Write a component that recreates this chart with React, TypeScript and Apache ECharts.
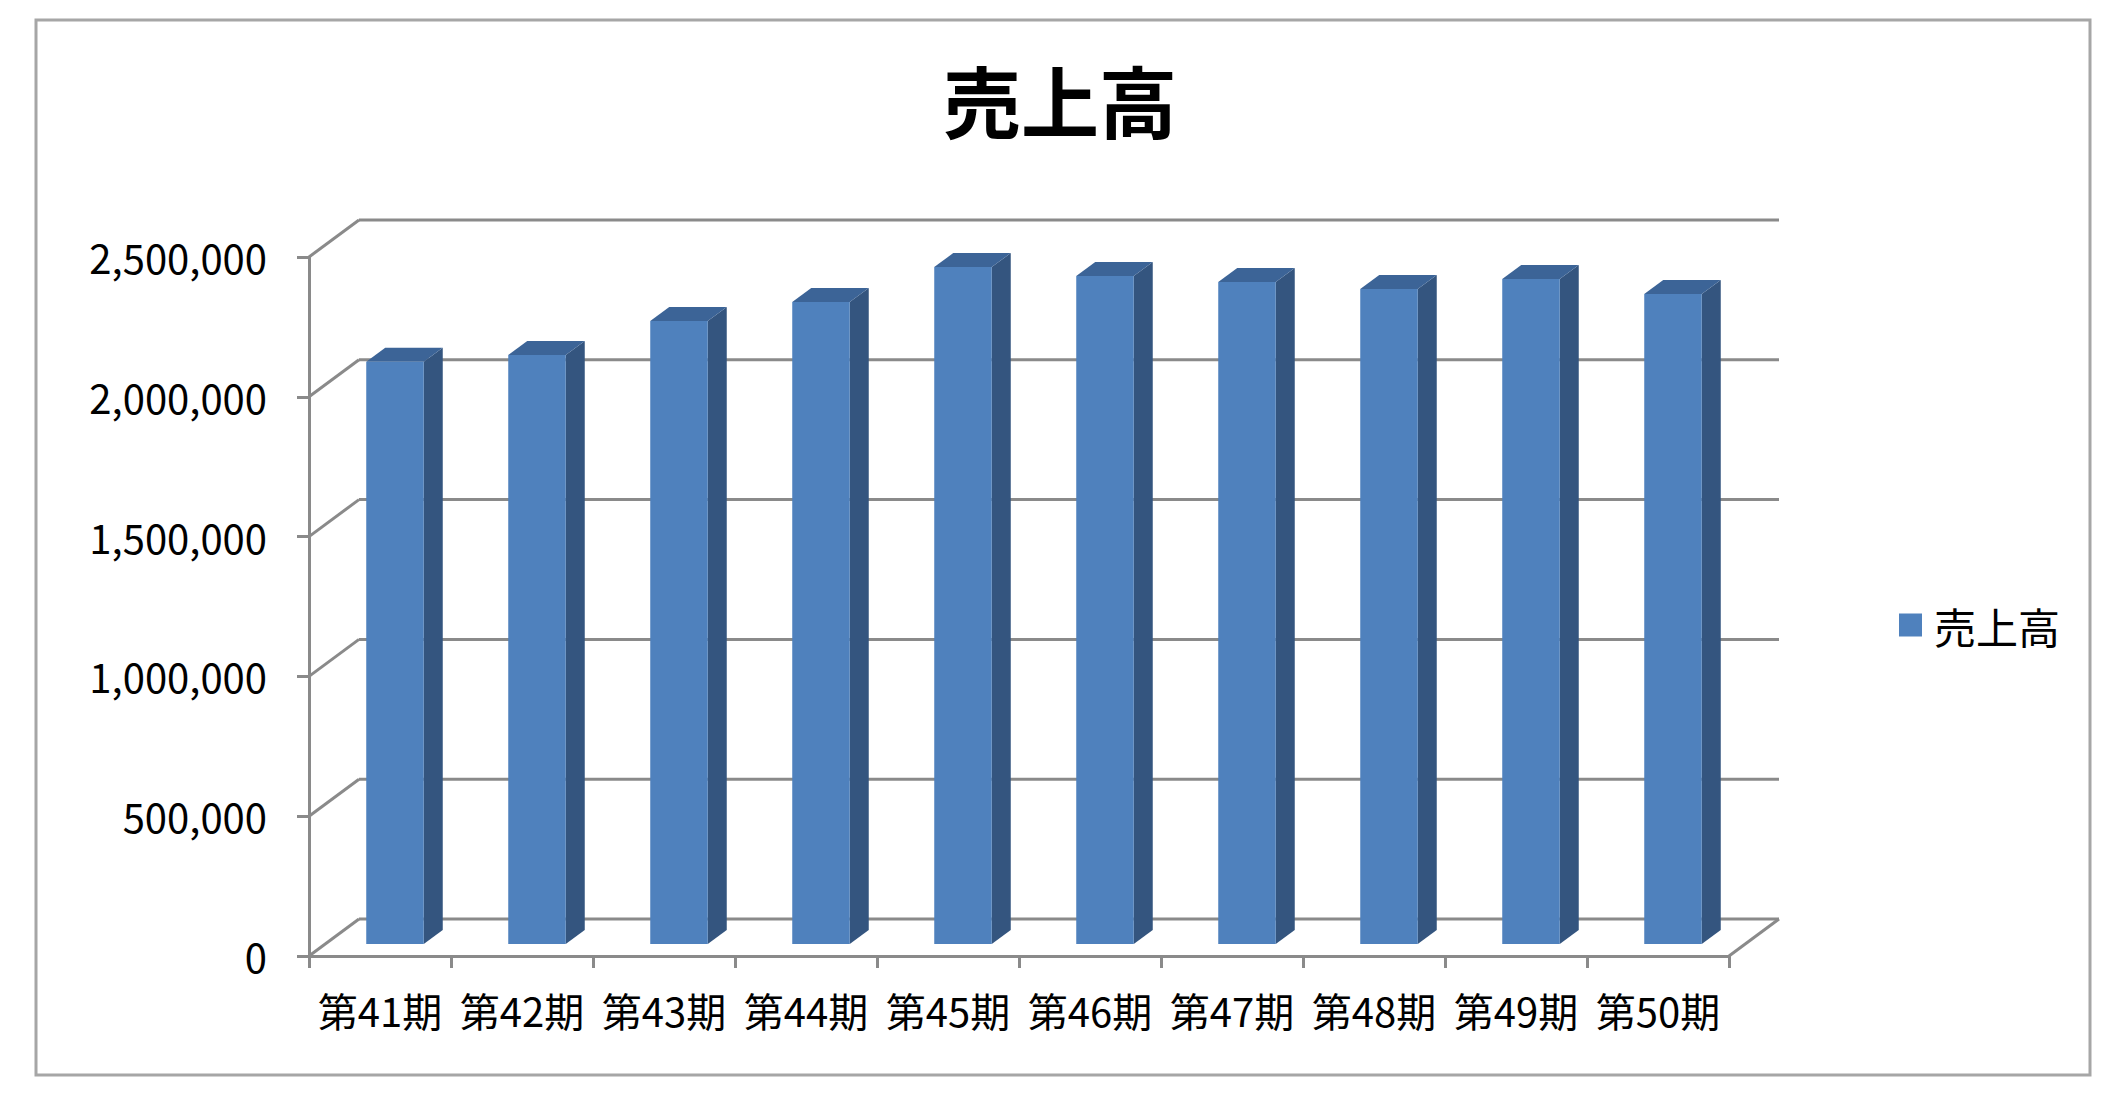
import React, { useEffect, useRef } from "react";
import * as echarts from "echarts";

const periods = ["第41期", "第42期", "第43期", "第44期", "第45期", "第46期", "第47期", "第48期", "第49期", "第50期"];
const sales = [2082000, 2107000, 2228000, 2296000, 2421000, 2389000, 2368000, 2343000, 2378000, 2325000];
const yTicks = [0, 500000, 1000000, 1500000, 2000000, 2500000];
const seriesName = "売上高";

const FONT = '"Noto Sans CJK JP", "Noto Sans", sans-serif';
const GRID_COLOR = "#8A8A8A";
const DEPTH_X = 50;
const DEPTH_Y = -37;
const BAR_OFF_X = 15;
const BAR_OFF_Y = -12;
const BAR_DEPTH_X = 19;
const BAR_DEPTH_Y = -14;

export default function App() {
  const ref = useRef<HTMLDivElement>(null);
  useEffect(() => {
    if (!ref.current) return;
    const chart = echarts.init(ref.current, undefined, { renderer: "svg" });
    const lineStyle = { stroke: GRID_COLOR, lineWidth: 3 };
    chart.setOption({
      animation: false,
      backgroundColor: "#ffffff",
      textStyle: { fontFamily: FONT },
      title: {
        text: "売上高",
        left: "center",
        top: 55,
        textStyle: { fontSize: 78, fontWeight: "bold", color: "#000", fontFamily: FONT },
      },
      legend: {
        data: [seriesName],
        left: 1899,
        top: 604,
        padding: 0,
        icon: "rect",
        itemWidth: 23,
        itemHeight: 23,
        textStyle: { fontSize: 42, color: "#000", fontFamily: FONT, padding: [0, 0, 0, 7] },
      },
      graphic: [
        {
          type: "rect",
          shape: { x: 36, y: 20, width: 2054, height: 1055 },
          style: { fill: "none", stroke: "#A6A6A6", lineWidth: 3 },
          silent: true,
          z: -10,
        },
      ],
      grid: { left: 309, right: 391, top: 257, bottom: 147, containLabel: false },
      xAxis: {
        type: "category",
        data: periods,
        boundaryGap: true,
        axisLine: { show: true, lineStyle: { color: GRID_COLOR, width: 3 } },
        axisTick: { show: true, length: 12, interval: 0, lineStyle: { color: GRID_COLOR, width: 3 } },
        axisLabel: { fontSize: 40, color: "#000", margin: 34, interval: 0, fontFamily: FONT },
        splitLine: { show: false },
      },
      yAxis: {
        type: "value",
        min: 0,
        max: 2500000,
        interval: 500000,
        axisLine: { show: true, lineStyle: { color: GRID_COLOR, width: 3 } },
        axisTick: { show: true, length: 12, lineStyle: { color: GRID_COLOR, width: 3 } },
        axisLabel: {
          fontSize: 40,
          color: "#000",
          margin: 42,
          fontFamily: FONT,
          formatter: (v: number) => v.toLocaleString("en-US"),
        },
        splitLine: { show: false },
      },
      series: [
        {
          type: "custom",
          name: "walls",
          clip: false,
          silent: true,
          z: 1,
          data: yTicks.map((v) => [0, v]),
          renderItem: (params: any, api: any) => {
            const cs = params.coordSys;
            const v = api.value(1);
            const y = api.coord([0, v])[1];
            const left = cs.x;
            const right = cs.x + cs.width;
            const children: any[] = [
              {
                type: "line",
                shape: { x1: left + DEPTH_X, y1: y + DEPTH_Y, x2: right + DEPTH_X, y2: y + DEPTH_Y },
                style: lineStyle,
              },
              {
                type: "line",
                shape: { x1: left, y1: y, x2: left + DEPTH_X, y2: y + DEPTH_Y },
                style: lineStyle,
              },
            ];
            if (v === 0) {
              children.push({
                type: "line",
                shape: { x1: right, y1: y, x2: right + DEPTH_X, y2: y + DEPTH_Y },
                style: lineStyle,
              });
            }
            return { type: "group", children };
          },
        },
        {
          type: "custom",
          name: seriesName,
          clip: false,
          z: 5,
          itemStyle: { color: "#4F81BD" },
          encode: { x: 0, y: 1 },
          data: sales.map((v, i) => [i, v]),
          renderItem: (params: any, api: any) => {
            const idx = api.value(0);
            const top = api.coord([idx, api.value(1)]);
            const base = api.coord([idx, 0]);
            const band = api.size([1, 0])[0];
            const w = band * 0.405;
            const x0 = top[0] - w / 2 + BAR_OFF_X;
            const x1 = x0 + w;
            const yT = top[1] + BAR_OFF_Y;
            const yB = base[1] + BAR_OFF_Y;
            return {
              type: "group",
              children: [
                {
                  type: "polygon",
                  shape: { points: [[x1, yT], [x1 + BAR_DEPTH_X, yT + BAR_DEPTH_Y], [x1 + BAR_DEPTH_X, yB + BAR_DEPTH_Y], [x1, yB]] },
                  style: { fill: "#34557F" },
                },
                {
                  type: "polygon",
                  shape: { points: [[x0, yT], [x0 + BAR_DEPTH_X, yT + BAR_DEPTH_Y], [x1 + BAR_DEPTH_X, yT + BAR_DEPTH_Y], [x1, yT]] },
                  style: { fill: "#3C6497" },
                },
                {
                  type: "rect",
                  shape: { x: x0, y: yT, width: w, height: yB - yT },
                  style: { fill: "#4F81BD" },
                },
              ],
            };
          },
        },
      ],
    });
    return () => chart.dispose();
  }, []);
  return (
    <div
      ref={ref}
      style={{ position: "fixed", left: 0, top: 0, width: 2120, height: 1103, background: "#fff" }}
    />
  );
}
